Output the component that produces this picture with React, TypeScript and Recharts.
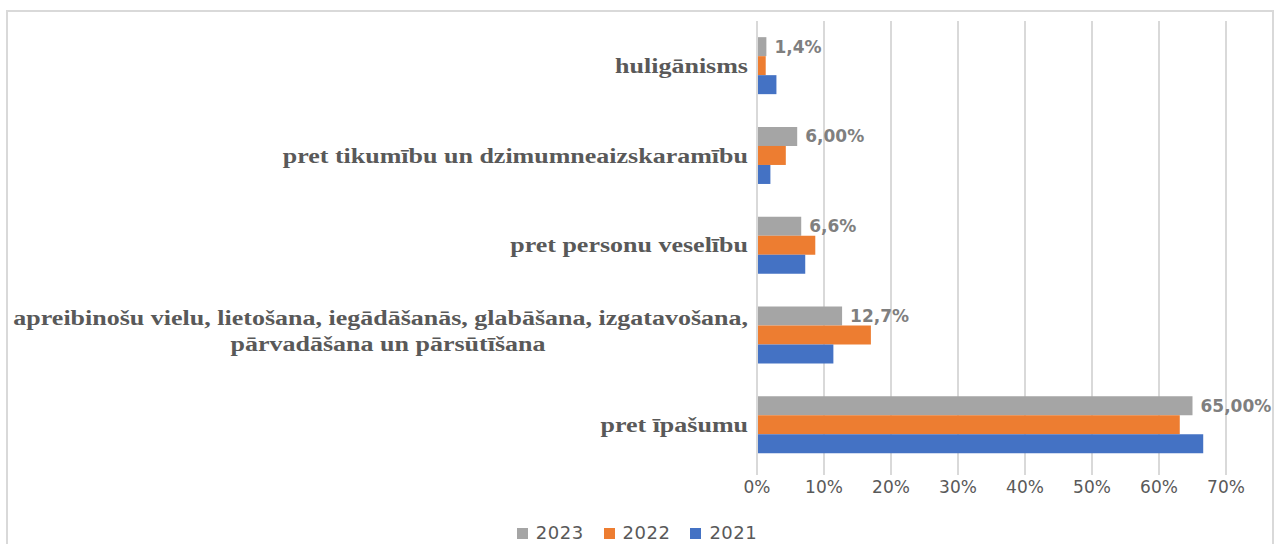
import { BarChart, Bar, XAxis, YAxis, CartesianGrid, LabelList } from 'recharts';

const categories = [
  'huligānisms',
  'pret tikumību un dzimumneaizskaramību',
  'pret personu veselību',
  'apreibinošu vielu, lietošana, iegādāšanās, glabāšana, izgatavošana,\npārvadāšana un pārsūtīšana',
  'pret īpašumu',
];
const values2023 = [1.4, 6.0, 6.6, 12.7, 65.0];
const values2022 = [1.3, 4.3, 8.7, 17.0, 63.1];
const values2021 = [2.9, 2.0, 7.2, 11.4, 66.6];
const labels2023 = ['1,4%', '6,00%', '6,6%', '12,7%', '65,00%'];
const xTicks = [0, 10, 20, 30, 40, 50, 60, 70];

const series = [
  { key: 'y2023', name: '2023', color: '#a5a5a5' },
  { key: 'y2022', name: '2022', color: '#ed7d31' },
  { key: 'y2021', name: '2021', color: '#4472c4' },
];

const data = categories.map((cat, i) => ({
  cat,
  y2023: values2023[i],
  y2022: values2022[i],
  y2021: values2021[i],
  label: labels2023[i],
}));

const STRETCH = 1.3;
const grid = '#d9d9d9';
const text = '#595959';

function CategoryTick({ x, y, payload }: any) {
  const lines = String(payload.value).split('\n');
  const style = { fontFamily: 'Liberation Serif', fontWeight: 700, fontSize: 20, fill: text };
  return (
    <g transform={`translate(${x},${y}) scale(${STRETCH},1)`}>
      {lines.length === 1 ? (
        <text x={0} y={0} dy="0.34em" textAnchor="end" style={style}>{lines[0]}</text>
      ) : (
        <>
          <text x={0} y={-10} textAnchor="end" style={style}>{lines[0]}</text>
          <text x={-360 / STRETCH} y={16} textAnchor="middle" style={style}>{lines[1]}</text>
        </>
      )}
    </g>
  );
}

function ValueLabel({ x, y, width, height, value }: any) {
  return (
    <text
      x={x + width + 8}
      y={y + height / 2}
      dominantBaseline="central"
      style={{ fontFamily: 'DejaVu Sans', fontWeight: 700, fontSize: 17, fill: '#7f7f7f' }}
    >
      {value}
    </text>
  );
}

export default function App() {
  return (
    <div style={{ position: 'absolute', left: 0, top: 0, width: 1274, height: 544, background: '#fff', overflow: 'hidden' }}>
      <div
        style={{
          position: 'absolute', left: 6, top: 10, width: 1264, height: 560,
          borderLeft: `2px solid ${grid}`, borderTop: `2px solid ${grid}`, borderRight: `2px solid ${grid}`,
        }}
      />
      <div style={{ position: 'absolute', left: 0, top: 0 }}>
        <BarChart
          width={1274}
          height={544}
          data={data}
          layout="vertical"
          margin={{ top: 21, right: 48, bottom: 44, left: 0 }}
          barCategoryGap="18%"
          barGap={0}
        >
          <CartesianGrid horizontal={false} stroke={grid} strokeWidth={2} />
          <XAxis
            type="number"
            domain={[0, 70]}
            ticks={xTicks}
            tickFormatter={(v) => `${v}%`}
            axisLine={false}
            tickLine={{ stroke: grid, strokeWidth: 2 }}
            tickSize={5}
            tickMargin={6}
            height={30}
            tick={{ fill: text, fontSize: 17, fontFamily: 'DejaVu Sans' }}
          />
          <YAxis
            type="category"
            dataKey="cat"
            width={757}
            axisLine={{ stroke: grid, strokeWidth: 2 }}
            tickLine={false}
            tickSize={0}
            tickMargin={9}
            interval={0}
            tick={<CategoryTick />}
          />
          {series.map((s) => (
            <Bar key={s.key} dataKey={s.key} name={s.name} fill={s.color} isAnimationActive={false}>
              {s.key === 'y2023' && <LabelList dataKey="label" content={<ValueLabel />} />}
            </Bar>
          ))}
        </BarChart>
      </div>
      <div
        style={{
          position: 'absolute', left: 0, top: 522, width: 1274, display: 'flex', justifyContent: 'center',
          gap: 20, fontFamily: 'DejaVu Sans', fontSize: 18, letterSpacing: 0.5, color: text, lineHeight: '22px',
        }}
      >
        {series.map((s) => (
          <div key={s.key} style={{ display: 'flex', alignItems: 'center', gap: 8 }}>
            <span style={{ width: 11, height: 11, background: s.color, display: 'inline-block' }} />
            <span>{s.name}</span>
          </div>
        ))}
      </div>
    </div>
  );
}
